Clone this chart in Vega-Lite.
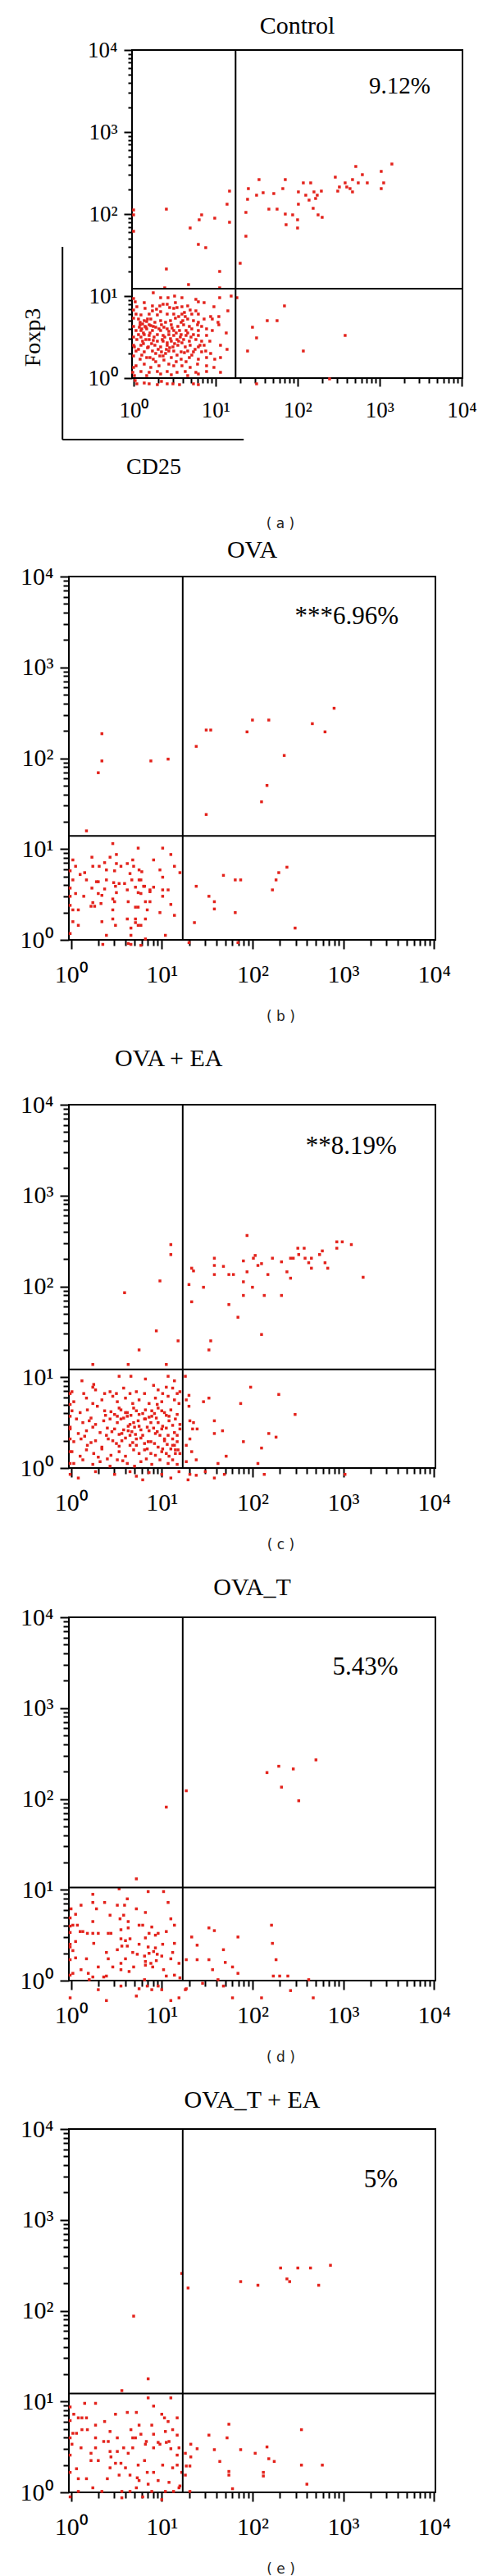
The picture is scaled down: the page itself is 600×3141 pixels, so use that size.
{
  "$schema": "https://vega.github.io/schema/vega-lite/v6.json",
  "padding": {"left": 23, "top": 15, "right": 5, "bottom": 0},
  "spacing": 7,
  "config": {
    "view": {"stroke": "black", "strokeWidth": 2},
    "axis": {"domain": false, "grid": false, "tickColor": "black", "tickWidth": 2, "labelColor": "black", "labelFont": "Liberation Serif", "titleFont": "Liberation Serif", "titleFontWeight": "normal", "titleColor": "black", "labelFlush": false, "labelOverlap": false, "labelBound": false},
    "title": {"font": "Liberation Serif", "fontSize": 30, "fontWeight": "normal", "color": "black", "baseline": "alphabetic", "frame": "group"}
  },
  "datasets": {
    "a": [
      {"cd25":0.24,"foxp3":1.04},{"cd25":0.33,"foxp3":0.98},{"cd25":0.42,"foxp3":0.98},{"cd25":0.50,"foxp3":1.00},{"cd25":0.59,"foxp3":0.98},{"cd25":0.76,"foxp3":0.96},{"cd25":1.05,"foxp3":0.98},{"cd25":1.19,"foxp3":1.00},
      {"cd25":0.02,"foxp3":0.93},{"cd25":0.13,"foxp3":0.92},{"cd25":0.23,"foxp3":0.88},{"cd25":0.32,"foxp3":0.88},{"cd25":0.41,"foxp3":0.90},{"cd25":0.51,"foxp3":0.92},{"cd25":0.53,"foxp3":0.86},{"cd25":0.79,"foxp3":0.93},{"cd25":0.86,"foxp3":0.92},
      {"cd25":0.04,"foxp3":0.87},{"cd25":0.14,"foxp3":0.85},{"cd25":0.23,"foxp3":0.82},{"cd25":0.33,"foxp3":0.81},{"cd25":0.49,"foxp3":0.85},{"cd25":0.59,"foxp3":0.87},{"cd25":0.69,"foxp3":0.83},{"cd25":0.76,"foxp3":0.82},{"cd25":0.98,"foxp3":0.87},{"cd25":1.15,"foxp3":0.82},
      {"cd25":0.03,"foxp3":0.78},{"cd25":0.09,"foxp3":0.77},{"cd25":0.19,"foxp3":0.78},{"cd25":0.29,"foxp3":0.77},{"cd25":0.41,"foxp3":0.78},{"cd25":0.49,"foxp3":0.78},{"cd25":0.59,"foxp3":0.78},{"cd25":0.63,"foxp3":0.75},{"cd25":0.71,"foxp3":0.78},{"cd25":0.79,"foxp3":0.78},{"cd25":0.94,"foxp3":0.75},{"cd25":1.04,"foxp3":0.75},
      {"cd25":0.06,"foxp3":0.72},{"cd25":0.13,"foxp3":0.70},{"cd25":0.21,"foxp3":0.72},{"cd25":0.33,"foxp3":0.70},{"cd25":0.39,"foxp3":0.68},{"cd25":0.51,"foxp3":0.73},{"cd25":0.58,"foxp3":0.68},{"cd25":0.66,"foxp3":0.72},{"cd25":0.73,"foxp3":0.70},{"cd25":0.79,"foxp3":0.68},{"cd25":0.86,"foxp3":0.72},{"cd25":0.96,"foxp3":0.72},{"cd25":1.03,"foxp3":0.68},
      {"cd25":0.08,"foxp3":0.65},{"cd25":0.14,"foxp3":0.63},{"cd25":0.19,"foxp3":0.65},{"cd25":0.24,"foxp3":0.63},{"cd25":0.34,"foxp3":0.65},{"cd25":0.46,"foxp3":0.65},{"cd25":0.54,"foxp3":0.63},{"cd25":0.61,"foxp3":0.65},{"cd25":0.68,"foxp3":0.63},{"cd25":0.78,"foxp3":0.65},{"cd25":0.83,"foxp3":0.63},{"cd25":1.04,"foxp3":0.65},
      {"cd25":0.03,"foxp3":0.58},{"cd25":0.09,"foxp3":0.58},{"cd25":0.16,"foxp3":0.60},{"cd25":0.23,"foxp3":0.58},{"cd25":0.33,"foxp3":0.58},{"cd25":0.41,"foxp3":0.60},{"cd25":0.49,"foxp3":0.58},{"cd25":0.56,"foxp3":0.58},{"cd25":0.64,"foxp3":0.58},{"cd25":0.71,"foxp3":0.60},{"cd25":0.79,"foxp3":0.58},{"cd25":0.89,"foxp3":0.60},{"cd25":0.96,"foxp3":0.58},
      {"cd25":0.06,"foxp3":0.53},{"cd25":0.13,"foxp3":0.53},{"cd25":0.19,"foxp3":0.52},{"cd25":0.29,"foxp3":0.53},{"cd25":0.36,"foxp3":0.52},{"cd25":0.43,"foxp3":0.53},{"cd25":0.49,"foxp3":0.52},{"cd25":0.58,"foxp3":0.53},{"cd25":0.64,"foxp3":0.52},{"cd25":0.73,"foxp3":0.53},{"cd25":0.79,"foxp3":0.52},{"cd25":0.89,"foxp3":0.52},{"cd25":1.13,"foxp3":0.55},
      {"cd25":0.04,"foxp3":0.47},{"cd25":0.11,"foxp3":0.45},{"cd25":0.19,"foxp3":0.47},{"cd25":0.29,"foxp3":0.45},{"cd25":0.36,"foxp3":0.45},{"cd25":0.41,"foxp3":0.43},{"cd25":0.46,"foxp3":0.45},{"cd25":0.53,"foxp3":0.47},{"cd25":0.59,"foxp3":0.43},{"cd25":0.68,"foxp3":0.45},{"cd25":0.76,"foxp3":0.47},{"cd25":0.83,"foxp3":0.45},{"cd25":0.93,"foxp3":0.45},
      {"cd25":0.01,"foxp3":0.38},{"cd25":0.09,"foxp3":0.40},{"cd25":0.18,"foxp3":0.38},{"cd25":0.26,"foxp3":0.40},{"cd25":0.33,"foxp3":0.38},{"cd25":0.41,"foxp3":0.40},{"cd25":0.48,"foxp3":0.38},{"cd25":0.54,"foxp3":0.40},{"cd25":0.63,"foxp3":0.38},{"cd25":0.69,"foxp3":0.40},{"cd25":0.79,"foxp3":0.38},{"cd25":0.86,"foxp3":0.40},{"cd25":1.06,"foxp3":0.40},
      {"cd25":0.03,"foxp3":0.33},{"cd25":0.13,"foxp3":0.32},{"cd25":0.23,"foxp3":0.33},{"cd25":0.34,"foxp3":0.32},{"cd25":0.43,"foxp3":0.33},{"cd25":0.58,"foxp3":0.32},{"cd25":0.66,"foxp3":0.33},{"cd25":0.73,"foxp3":0.32},{"cd25":0.83,"foxp3":0.32},{"cd25":0.88,"foxp3":0.33},{"cd25":0.94,"foxp3":0.30},{"cd25":1.14,"foxp3":0.35},
      {"cd25":0.08,"foxp3":0.23},{"cd25":0.16,"foxp3":0.25},{"cd25":0.24,"foxp3":0.23},{"cd25":0.36,"foxp3":0.27},{"cd25":0.46,"foxp3":0.25},{"cd25":0.58,"foxp3":0.23},{"cd25":0.68,"foxp3":0.25},{"cd25":0.79,"foxp3":0.23},{"cd25":0.89,"foxp3":0.25},{"cd25":0.99,"foxp3":0.23},{"cd25":1.06,"foxp3":0.25},
      {"cd25":0.03,"foxp3":0.15},{"cd25":0.13,"foxp3":0.17},{"cd25":0.21,"foxp3":0.13},{"cd25":0.31,"foxp3":0.15},{"cd25":0.43,"foxp3":0.17},{"cd25":0.49,"foxp3":0.15},{"cd25":0.59,"foxp3":0.15},{"cd25":0.69,"foxp3":0.13},{"cd25":0.78,"foxp3":0.17},{"cd25":0.89,"foxp3":0.15},{"cd25":0.98,"foxp3":0.13},
      {"cd25":0.09,"foxp3":0.08},{"cd25":0.19,"foxp3":0.07},{"cd25":0.29,"foxp3":0.08},{"cd25":0.41,"foxp3":0.08},{"cd25":0.53,"foxp3":0.07},{"cd25":0.63,"foxp3":0.08},{"cd25":0.76,"foxp3":0.07},{"cd25":0.89,"foxp3":0.08},{"cd25":1.06,"foxp3":0.07},
      {"cd25":0.01,"foxp3":0.03},{"cd25":0.16,"foxp3":0.03},{"cd25":0.33,"foxp3":0.05},{"cd25":0.46,"foxp3":0.04},{"cd25":0.66,"foxp3":0.03},{"cd25":0.79,"foxp3":0.05},
      {"cd25":0.02,"foxp3":-0.03},{"cd25":0.04,"foxp3":-0.07},{"cd25":0.13,"foxp3":-0.06},{"cd25":0.19,"foxp3":-0.07},{"cd25":0.29,"foxp3":-0.08},{"cd25":0.34,"foxp3":-0.04},{"cd25":0.41,"foxp3":-0.07},{"cd25":0.48,"foxp3":-0.07},{"cd25":0.56,"foxp3":-0.08},{"cd25":0.73,"foxp3":-0.07},{"cd25":0.79,"foxp3":-0.08},
      {"cd25":0.00,"foxp3":0.97},{"cd25":0.00,"foxp3":0.83},{"cd25":0.00,"foxp3":0.73},{"cd25":0.00,"foxp3":0.63},{"cd25":0.00,"foxp3":0.50},{"cd25":0.00,"foxp3":0.40},{"cd25":0.00,"foxp3":0.27},{"cd25":0.00,"foxp3":0.13},{"cd25":-0.01,"foxp3":0.07},
      {"cd25":0.10,"foxp3":0.60},{"cd25":0.15,"foxp3":0.62},{"cd25":0.12,"foxp3":0.55},{"cd25":0.20,"foxp3":0.55},{"cd25":0.25,"foxp3":0.50},{"cd25":0.35,"foxp3":0.47},{"cd25":0.38,"foxp3":0.50},{"cd25":0.45,"foxp3":0.48},{"cd25":0.50,"foxp3":0.42},{"cd25":0.55,"foxp3":0.45},{"cd25":0.40,"foxp3":0.35},{"cd25":0.30,"foxp3":0.35},{"cd25":0.22,"foxp3":0.42},{"cd25":0.60,"foxp3":0.70},{"cd25":0.62,"foxp3":0.80},{"cd25":0.55,"foxp3":0.75},{"cd25":0.45,"foxp3":0.70},{"cd25":0.08,"foxp3":0.68},{"cd25":0.17,"foxp3":0.72},{"cd25":0.27,"foxp3":0.62},
      {"cd25":0.07,"foxp3":0.62},{"cd25":0.11,"foxp3":0.66},{"cd25":0.16,"foxp3":0.69},{"cd25":0.21,"foxp3":0.64},{"cd25":0.26,"foxp3":0.68},{"cd25":0.31,"foxp3":0.60},{"cd25":0.37,"foxp3":0.62},{"cd25":0.43,"foxp3":0.57},{"cd25":0.47,"foxp3":0.61},{"cd25":0.52,"foxp3":0.55},{"cd25":0.57,"foxp3":0.50},{"cd25":0.61,"foxp3":0.47},{"cd25":0.66,"foxp3":0.55},{"cd25":0.70,"foxp3":0.50},{"cd25":0.12,"foxp3":0.42},{"cd25":0.17,"foxp3":0.37},{"cd25":0.27,"foxp3":0.30},{"cd25":0.32,"foxp3":0.27},{"cd25":0.39,"foxp3":0.30},{"cd25":0.44,"foxp3":0.37},{"cd25":0.49,"foxp3":0.33},{"cd25":0.53,"foxp3":0.28},{"cd25":0.62,"foxp3":0.31},{"cd25":0.09,"foxp3":0.50},{"cd25":0.15,"foxp3":0.47},{"cd25":0.24,"foxp3":0.46},{"cd25":0.06,"foxp3":0.35},{"cd25":0.10,"foxp3":0.28},{"cd25":0.20,"foxp3":0.25},{"cd25":0.27,"foxp3":0.20},{"cd25":0.37,"foxp3":0.22},{"cd25":0.52,"foxp3":0.20},{"cd25":0.64,"foxp3":0.20},{"cd25":0.71,"foxp3":0.28},{"cd25":0.75,"foxp3":0.35},{"cd25":0.81,"foxp3":0.40},{"cd25":0.44,"foxp3":0.86},{"cd25":0.36,"foxp3":0.90},{"cd25":0.28,"foxp3":0.84},{"cd25":0.66,"foxp3":0.88},
      {"cd25":0.00,"foxp3":2.05},{"cd25":0.00,"foxp3":1.99},{"cd25":0.00,"foxp3":1.79},{"cd25":0.40,"foxp3":2.06},{"cd25":1.17,"foxp3":2.28},{"cd25":1.14,"foxp3":2.12},{"cd25":0.83,"foxp3":1.99},{"cd25":0.80,"foxp3":1.93},{"cd25":0.99,"foxp3":1.95},{"cd25":1.17,"foxp3":1.90},{"cd25":0.69,"foxp3":1.83},{"cd25":0.79,"foxp3":1.63},{"cd25":0.88,"foxp3":1.59},{"cd25":0.40,"foxp3":1.33},{"cd25":1.05,"foxp3":1.30},{"cd25":0.67,"foxp3":1.14},{"cd25":0.38,"foxp3":1.10},{"cd25":1.05,"foxp3":1.10},
      {"cd25":1.30,"foxp3":1.40},{"cd25":1.37,"foxp3":1.73},{"cd25":1.37,"foxp3":2.02},{"cd25":1.39,"foxp3":2.18},{"cd25":1.40,"foxp3":2.31},{"cd25":1.50,"foxp3":2.23},{"cd25":1.53,"foxp3":2.42},{"cd25":1.58,"foxp3":2.26},{"cd25":1.65,"foxp3":2.06},{"cd25":1.71,"foxp3":2.25},{"cd25":1.75,"foxp3":2.06},{"cd25":1.82,"foxp3":2.31},{"cd25":1.85,"foxp3":2.42},{"cd25":1.85,"foxp3":2.00},{"cd25":1.86,"foxp3":1.87},{"cd25":1.94,"foxp3":1.99},{"cd25":2.00,"foxp3":1.93},{"cd25":2.00,"foxp3":1.83},{"cd25":2.01,"foxp3":2.27},{"cd25":2.01,"foxp3":2.12},{"cd25":2.07,"foxp3":2.38},{"cd25":2.10,"foxp3":2.23},{"cd25":2.14,"foxp3":2.17},{"cd25":2.16,"foxp3":2.38},{"cd25":2.19,"foxp3":2.07},{"cd25":2.20,"foxp3":2.27},{"cd25":2.22,"foxp3":2.19},{"cd25":2.24,"foxp3":2.23},{"cd25":2.25,"foxp3":1.99},{"cd25":2.29,"foxp3":2.28},{"cd25":2.30,"foxp3":1.96},{"cd25":2.46,"foxp3":2.45},{"cd25":2.49,"foxp3":2.28},{"cd25":2.51,"foxp3":2.33},{"cd25":2.58,"foxp3":2.38},{"cd25":2.60,"foxp3":2.33},{"cd25":2.64,"foxp3":2.31},{"cd25":2.67,"foxp3":2.27},{"cd25":2.67,"foxp3":2.42},{"cd25":2.71,"foxp3":2.58},{"cd25":2.74,"foxp3":2.38},{"cd25":2.79,"foxp3":2.48},{"cd25":2.85,"foxp3":2.38},{"cd25":3.02,"foxp3":2.52},{"cd25":3.02,"foxp3":2.31},{"cd25":3.05,"foxp3":2.38},{"cd25":3.15,"foxp3":2.61},
      {"cd25":1.26,"foxp3":0.98},{"cd25":1.45,"foxp3":0.62},{"cd25":1.50,"foxp3":0.49},{"cd25":1.39,"foxp3":0.33},{"cd25":1.63,"foxp3":0.70},{"cd25":1.75,"foxp3":0.70},{"cd25":1.84,"foxp3":0.88},{"cd25":2.07,"foxp3":0.33},{"cd25":2.58,"foxp3":0.52},{"cd25":2.39,"foxp3":-0.01},{"cd25":1.50,"foxp3":-0.07}
    ],
    "b": [
      {"cd25":0.46,"foxp3":1.06},{"cd25":0.74,"foxp3":1.01},{"cd25":1.01,"foxp3":1.01},{"cd25":0.23,"foxp3":0.91},{"cd25":0.43,"foxp3":0.91},{"cd25":0.50,"foxp3":0.94},{"cd25":1.10,"foxp3":0.94},{"cd25":0.02,"foxp3":0.88},
      {"cd25":0.24,"foxp3":0.81},{"cd25":0.31,"foxp3":0.81},{"cd25":0.37,"foxp3":0.85},{"cd25":0.50,"foxp3":0.84},{"cd25":0.55,"foxp3":0.81},{"cd25":0.62,"foxp3":0.84},{"cd25":0.68,"foxp3":0.88},{"cd25":0.69,"foxp3":0.81},{"cd25":0.91,"foxp3":0.88},{"cd25":0.05,"foxp3":0.81},
      {"cd25":0.15,"foxp3":0.74},{"cd25":0.10,"foxp3":0.72},{"cd25":0.39,"foxp3":0.77},{"cd25":0.48,"foxp3":0.76},{"cd25":0.65,"foxp3":0.73},{"cd25":0.75,"foxp3":0.77},{"cd25":0.78,"foxp3":0.75},{"cd25":0.98,"foxp3":0.77},{"cd25":1.14,"foxp3":0.81},{"cd25":1.20,"foxp3":0.74},
      {"cd25":0.17,"foxp3":0.66},{"cd25":0.28,"foxp3":0.64},{"cd25":0.30,"foxp3":0.64},{"cd25":0.39,"foxp3":0.66},{"cd25":0.47,"foxp3":0.63},{"cd25":0.53,"foxp3":0.62},{"cd25":0.59,"foxp3":0.62},{"cd25":0.67,"foxp3":0.66},{"cd25":0.75,"foxp3":0.66},{"cd25":0.77,"foxp3":0.66},{"cd25":1.01,"foxp3":0.69},{"cd25":0.02,"foxp3":0.66},
      {"cd25":0.23,"foxp3":0.57},{"cd25":0.37,"foxp3":0.56},{"cd25":0.49,"foxp3":0.59},{"cd25":0.62,"foxp3":0.55},{"cd25":0.71,"foxp3":0.58},{"cd25":0.80,"foxp3":0.59},{"cd25":0.81,"foxp3":0.59},{"cd25":0.87,"foxp3":0.55},{"cd25":0.91,"foxp3":0.58},{"cd25":1.01,"foxp3":0.55},{"cd25":1.07,"foxp3":0.55},
      {"cd25":0.30,"foxp3":0.51},{"cd25":0.34,"foxp3":0.49},{"cd25":0.14,"foxp3":0.48},{"cd25":0.05,"foxp3":0.51},{"cd25":0.50,"foxp3":0.52},{"cd25":0.74,"foxp3":0.52},{"cd25":0.77,"foxp3":0.51},{"cd25":0.87,"foxp3":0.53},{"cd25":1.01,"foxp3":0.48},
      {"cd25":0.46,"foxp3":0.45},{"cd25":0.48,"foxp3":0.42},{"cd25":0.24,"foxp3":0.41},{"cd25":0.33,"foxp3":0.40},{"cd25":0.22,"foxp3":0.37},{"cd25":0.26,"foxp3":0.37},{"cd25":0.63,"foxp3":0.42},{"cd25":0.71,"foxp3":0.36},{"cd25":0.74,"foxp3":0.36},{"cd25":0.82,"foxp3":0.42},{"cd25":0.87,"foxp3":0.42},{"cd25":0.84,"foxp3":0.33},{"cd25":1.10,"foxp3":0.39},
      {"cd25":0.02,"foxp3":0.33},{"cd25":0.08,"foxp3":0.33},{"cd25":0.46,"foxp3":0.33},{"cd25":0.98,"foxp3":0.30},{"cd25":1.14,"foxp3":0.27},{"cd25":0.62,"foxp3":0.23},{"cd25":0.71,"foxp3":0.23},{"cd25":0.82,"foxp3":0.23},{"cd25":0.71,"foxp3":0.19},{"cd25":0.74,"foxp3":0.16},{"cd25":0.77,"foxp3":0.16},{"cd25":0.46,"foxp3":0.23},{"cd25":0.34,"foxp3":0.20},{"cd25":0.02,"foxp3":0.20},{"cd25":0.08,"foxp3":0.16},{"cd25":0.49,"foxp3":0.16},{"cd25":0.66,"foxp3":0.13},
      {"cd25":0.39,"foxp3":0.05},{"cd25":0.66,"foxp3":0.05},{"cd25":0.82,"foxp3":0.01},{"cd25":1.04,"foxp3":0.05},{"cd25":-0.01,"foxp3":0.07},{"cd25":-0.01,"foxp3":0.57},{"cd25":-0.01,"foxp3":0.48},{"cd25":-0.01,"foxp3":0.38},{"cd25":-0.01,"foxp3":0.76},
      {"cd25":0.35,"foxp3":-0.05},{"cd25":0.63,"foxp3":-0.04},{"cd25":0.66,"foxp3":-0.05},{"cd25":0.77,"foxp3":-0.06},
      {"cd25":0.17,"foxp3":1.20},{"cd25":0.34,"foxp3":2.27},{"cd25":0.34,"foxp3":1.97},{"cd25":0.30,"foxp3":1.84},{"cd25":0.88,"foxp3":1.97},{"cd25":1.07,"foxp3":1.99},
      {"cd25":1.38,"foxp3":2.13},{"cd25":1.49,"foxp3":2.31},{"cd25":1.54,"foxp3":2.31},{"cd25":1.49,"foxp3":1.38},{"cd25":1.94,"foxp3":2.29},{"cd25":2.00,"foxp3":2.42},{"cd25":2.18,"foxp3":2.42},{"cd25":2.10,"foxp3":1.52},{"cd25":2.16,"foxp3":1.70},{"cd25":2.35,"foxp3":2.03},{"cd25":2.66,"foxp3":2.38},{"cd25":2.80,"foxp3":2.29},{"cd25":2.90,"foxp3":2.55},
      {"cd25":1.38,"foxp3":0.59},{"cd25":1.68,"foxp3":0.71},{"cd25":1.81,"foxp3":0.66},{"cd25":1.87,"foxp3":0.66},{"cd25":1.52,"foxp3":0.48},{"cd25":1.58,"foxp3":0.42},{"cd25":1.58,"foxp3":0.34},{"cd25":1.81,"foxp3":0.30},{"cd25":1.36,"foxp3":0.19},{"cd25":2.22,"foxp3":0.55},{"cd25":2.26,"foxp3":0.66},{"cd25":2.29,"foxp3":0.74},{"cd25":2.38,"foxp3":0.80},{"cd25":2.47,"foxp3":0.13},{"cd25":1.30,"foxp3":-0.03},{"cd25":1.84,"foxp3":-0.03}
    ],
    "c": [
      {"cd25":0.12,"foxp3":0.96},{"cd25":0.24,"foxp3":0.89},{"cd25":0.25,"foxp3":0.92},{"cd25":0.53,"foxp3":1.01},{"cd25":0.66,"foxp3":1.01},{"cd25":0.82,"foxp3":0.98},{"cd25":1.07,"foxp3":1.01},{"cd25":1.14,"foxp3":0.96},
      {"cd25":0.01,"foxp3":0.84},{"cd25":0.14,"foxp3":0.82},{"cd25":0.27,"foxp3":0.86},{"cd25":0.37,"foxp3":0.82},{"cd25":0.43,"foxp3":0.84},{"cd25":0.50,"foxp3":0.82},{"cd25":0.58,"foxp3":0.88},{"cd25":0.65,"foxp3":0.82},{"cd25":0.72,"foxp3":0.84},{"cd25":0.81,"foxp3":0.82},{"cd25":0.91,"foxp3":0.91},{"cd25":0.96,"foxp3":0.86},{"cd25":1.01,"foxp3":0.82},{"cd25":1.05,"foxp3":0.89},{"cd25":1.12,"foxp3":0.88},{"cd25":1.17,"foxp3":0.82},{"cd25":1.20,"foxp3":0.84},
      {"cd25":0.03,"foxp3":0.73},{"cd25":0.17,"foxp3":0.77},{"cd25":0.24,"foxp3":0.71},{"cd25":0.34,"foxp3":0.75},{"cd25":0.46,"foxp3":0.79},{"cd25":0.51,"foxp3":0.73},{"cd25":0.60,"foxp3":0.77},{"cd25":0.68,"foxp3":0.71},{"cd25":0.75,"foxp3":0.75},{"cd25":0.86,"foxp3":0.71},{"cd25":0.93,"foxp3":0.77},{"cd25":1.00,"foxp3":0.73},{"cd25":1.07,"foxp3":0.79},{"cd25":1.14,"foxp3":0.75},{"cd25":1.19,"foxp3":0.71},
      {"cd25":0.01,"foxp3":0.63},{"cd25":0.10,"foxp3":0.61},{"cd25":0.18,"foxp3":0.64},{"cd25":0.29,"foxp3":0.68},{"cd25":0.37,"foxp3":0.63},{"cd25":0.48,"foxp3":0.59},{"cd25":0.55,"foxp3":0.64},{"cd25":0.62,"foxp3":0.61},{"cd25":0.69,"foxp3":0.66},{"cd25":0.75,"foxp3":0.59},{"cd25":0.82,"foxp3":0.64},{"cd25":0.89,"foxp3":0.63},{"cd25":0.96,"foxp3":0.66},{"cd25":1.03,"foxp3":0.61},{"cd25":1.10,"foxp3":0.64},{"cd25":1.17,"foxp3":0.59},
      {"cd25":0.06,"foxp3":0.54},{"cd25":0.13,"foxp3":0.50},{"cd25":0.22,"foxp3":0.55},{"cd25":0.27,"foxp3":0.48},{"cd25":0.36,"foxp3":0.52},{"cd25":0.43,"foxp3":0.54},{"cd25":0.51,"foxp3":0.50},{"cd25":0.58,"foxp3":0.55},{"cd25":0.65,"foxp3":0.48},{"cd25":0.74,"foxp3":0.52},{"cd25":0.81,"foxp3":0.54},{"cd25":0.88,"foxp3":0.50},{"cd25":0.94,"foxp3":0.55},{"cd25":1.01,"foxp3":0.46},{"cd25":1.08,"foxp3":0.52},{"cd25":1.15,"foxp3":0.54},{"cd25":1.20,"foxp3":0.48},
      {"cd25":-0.01,"foxp3":0.43},{"cd25":0.08,"foxp3":0.38},{"cd25":0.17,"foxp3":0.41},{"cd25":0.24,"foxp3":0.45},{"cd25":0.32,"foxp3":0.39},{"cd25":0.39,"foxp3":0.36},{"cd25":0.48,"foxp3":0.43},{"cd25":0.56,"foxp3":0.38},{"cd25":0.63,"foxp3":0.41},{"cd25":0.70,"foxp3":0.45},{"cd25":0.79,"foxp3":0.36},{"cd25":0.86,"foxp3":0.41},{"cd25":0.93,"foxp3":0.38},{"cd25":1.00,"foxp3":0.43},{"cd25":1.07,"foxp3":0.36},{"cd25":1.14,"foxp3":0.39},{"cd25":1.20,"foxp3":0.43},
      {"cd25":0.03,"foxp3":0.29},{"cd25":0.11,"foxp3":0.32},{"cd25":0.18,"foxp3":0.25},{"cd25":0.27,"foxp3":0.30},{"cd25":0.34,"foxp3":0.23},{"cd25":0.41,"foxp3":0.32},{"cd25":0.50,"foxp3":0.27},{"cd25":0.56,"foxp3":0.30},{"cd25":0.65,"foxp3":0.25},{"cd25":0.72,"foxp3":0.32},{"cd25":0.81,"foxp3":0.27},{"cd25":0.88,"foxp3":0.29},{"cd25":0.96,"foxp3":0.23},{"cd25":1.03,"foxp3":0.30},{"cd25":1.12,"foxp3":0.25},{"cd25":1.17,"foxp3":0.29},
      {"cd25":0.01,"foxp3":0.18},{"cd25":0.10,"foxp3":0.13},{"cd25":0.17,"foxp3":0.20},{"cd25":0.25,"foxp3":0.16},{"cd25":0.34,"foxp3":0.21},{"cd25":0.44,"foxp3":0.14},{"cd25":0.53,"foxp3":0.18},{"cd25":0.60,"foxp3":0.13},{"cd25":0.69,"foxp3":0.20},{"cd25":0.75,"foxp3":0.16},{"cd25":0.84,"foxp3":0.21},{"cd25":0.93,"foxp3":0.14},{"cd25":1.00,"foxp3":0.18},{"cd25":1.08,"foxp3":0.13},{"cd25":1.15,"foxp3":0.20},{"cd25":1.20,"foxp3":0.16},
      {"cd25":0.03,"foxp3":0.05},{"cd25":0.13,"foxp3":0.09},{"cd25":0.24,"foxp3":0.04},{"cd25":0.32,"foxp3":0.07},{"cd25":0.43,"foxp3":0.02},{"cd25":0.51,"foxp3":0.09},{"cd25":0.62,"foxp3":0.05},{"cd25":0.70,"foxp3":0.02},{"cd25":0.77,"foxp3":0.07},{"cd25":0.89,"foxp3":0.04},{"cd25":0.98,"foxp3":0.09},{"cd25":1.07,"foxp3":0.05},{"cd25":1.17,"foxp3":0.04},
      {"cd25":-0.01,"foxp3":-0.07},{"cd25":0.08,"foxp3":-0.11},{"cd25":0.27,"foxp3":-0.04},{"cd25":0.48,"foxp3":-0.07},{"cd25":0.65,"foxp3":-0.04},{"cd25":0.72,"foxp3":-0.09},{"cd25":0.79,"foxp3":-0.13},{"cd25":0.86,"foxp3":-0.05},{"cd25":1.00,"foxp3":-0.07},{"cd25":1.10,"foxp3":-0.11},{"cd25":1.19,"foxp3":-0.04},
      {"cd25":0.62,"foxp3":0.57},{"cd25":0.69,"foxp3":0.50},{"cd25":0.75,"foxp3":0.46},{"cd25":0.82,"foxp3":0.54},{"cd25":0.89,"foxp3":0.57},{"cd25":0.96,"foxp3":0.50},{"cd25":0.98,"foxp3":0.36},{"cd25":1.03,"foxp3":0.32},{"cd25":1.10,"foxp3":0.21},{"cd25":1.14,"foxp3":0.25},{"cd25":0.55,"foxp3":0.54},{"cd25":0.60,"foxp3":0.61},{"cd25":0.51,"foxp3":0.57},{"cd25":0.65,"foxp3":0.36},{"cd25":0.72,"foxp3":0.25},{"cd25":0.81,"foxp3":0.20},{"cd25":0.88,"foxp3":0.16},{"cd25":1.01,"foxp3":0.21},{"cd25":1.05,"foxp3":0.16},{"cd25":1.12,"foxp3":0.32},{"cd25":1.15,"foxp3":0.16},{"cd25":1.17,"foxp3":0.36},{"cd25":1.08,"foxp3":0.57},{"cd25":1.00,"foxp3":0.63},
      {"cd25":0.40,"foxp3":0.44},{"cd25":0.45,"foxp3":0.40},{"cd25":0.53,"foxp3":0.37},{"cd25":0.58,"foxp3":0.42},{"cd25":0.63,"foxp3":0.46},{"cd25":0.67,"foxp3":0.40},{"cd25":0.71,"foxp3":0.37},{"cd25":0.77,"foxp3":0.42},{"cd25":0.84,"foxp3":0.45},{"cd25":0.91,"foxp3":0.44},{"cd25":0.95,"foxp3":0.40},{"cd25":1.05,"foxp3":0.44},{"cd25":0.46,"foxp3":0.30},{"cd25":0.53,"foxp3":0.24},{"cd25":0.60,"foxp3":0.33},{"cd25":0.68,"foxp3":0.28},{"cd25":0.77,"foxp3":0.33},{"cd25":0.85,"foxp3":0.29},{"cd25":0.92,"foxp3":0.27},{"cd25":1.06,"foxp3":0.26},{"cd25":0.38,"foxp3":0.58},{"cd25":0.44,"foxp3":0.62},{"cd25":0.53,"foxp3":0.66},{"cd25":0.66,"foxp3":0.58},{"cd25":0.72,"foxp3":0.63},{"cd25":0.79,"foxp3":0.60},{"cd25":0.86,"foxp3":0.56},{"cd25":0.92,"foxp3":0.60},{"cd25":1.05,"foxp3":0.58},{"cd25":1.12,"foxp3":0.47},{"cd25":0.20,"foxp3":0.52},{"cd25":0.15,"foxp3":0.35},{"cd25":0.22,"foxp3":0.28},{"cd25":0.30,"foxp3":0.12},{"cd25":0.40,"foxp3":0.10},{"cd25":0.57,"foxp3":0.08},{"cd25":0.83,"foxp3":0.10},{"cd25":1.12,"foxp3":0.09},{"cd25":1.18,"foxp3":0.20},{"cd25":0.95,"foxp3":0.70},
      {"cd25":-0.01,"foxp3":0.82},{"cd25":-0.01,"foxp3":0.70},{"cd25":-0.01,"foxp3":0.57},{"cd25":-0.01,"foxp3":0.45},{"cd25":-0.01,"foxp3":0.32},{"cd25":-0.01,"foxp3":0.18},{"cd25":-0.01,"foxp3":0.05},
      {"cd25":1.26,"foxp3":1.01},{"cd25":1.30,"foxp3":0.80},{"cd25":1.27,"foxp3":0.75},{"cd25":1.30,"foxp3":0.68},{"cd25":1.31,"foxp3":0.52},{"cd25":1.35,"foxp3":0.50},{"cd25":1.39,"foxp3":0.43},{"cd25":1.34,"foxp3":0.43},{"cd25":1.31,"foxp3":0.32},{"cd25":1.27,"foxp3":0.25},{"cd25":1.33,"foxp3":0.18},{"cd25":1.38,"foxp3":0.09},{"cd25":1.27,"foxp3":0.07},{"cd25":1.46,"foxp3":0.73},{"cd25":1.52,"foxp3":0.77},{"cd25":1.58,"foxp3":0.52},{"cd25":1.58,"foxp3":0.38},{"cd25":1.67,"foxp3":0.41},{"cd25":1.71,"foxp3":0.13},{"cd25":1.62,"foxp3":0.05},{"cd25":1.87,"foxp3":0.71},{"cd25":1.90,"foxp3":0.29},{"cd25":1.98,"foxp3":0.89},{"cd25":2.10,"foxp3":0.22},{"cd25":2.06,"foxp3":0.05},{"cd25":2.18,"foxp3":0.38},{"cd25":2.26,"foxp3":0.34},{"cd25":2.29,"foxp3":0.81},{"cd25":2.47,"foxp3":0.59},{"cd25":2.13,"foxp3":-0.07},{"cd25":3.02,"foxp3":-0.07},{"cd25":1.31,"foxp3":-0.07},{"cd25":1.58,"foxp3":-0.11},{"cd25":1.69,"foxp3":-0.07},{"cd25":1.48,"foxp3":-0.04},{"cd25":1.29,"foxp3":-0.13},{"cd25":1.38,"foxp3":-0.08},
      {"cd25":0.24,"foxp3":1.14},{"cd25":0.63,"foxp3":1.14},{"cd25":1.05,"foxp3":1.14},{"cd25":0.75,"foxp3":1.30},{"cd25":0.94,"foxp3":1.51},{"cd25":1.18,"foxp3":1.40},{"cd25":0.59,"foxp3":1.93},{"cd25":0.98,"foxp3":2.06},{"cd25":1.10,"foxp3":2.46},{"cd25":1.10,"foxp3":2.35},
      {"cd25":1.30,"foxp3":2.02},{"cd25":1.33,"foxp3":2.20},{"cd25":1.35,"foxp3":2.17},{"cd25":1.33,"foxp3":1.83},{"cd25":1.46,"foxp3":1.99},{"cd25":1.54,"foxp3":1.40},{"cd25":1.52,"foxp3":1.30},{"cd25":1.58,"foxp3":2.31},{"cd25":1.58,"foxp3":2.23},{"cd25":1.58,"foxp3":2.13},{"cd25":1.68,"foxp3":2.22},{"cd25":1.74,"foxp3":1.80},{"cd25":1.74,"foxp3":2.13},{"cd25":1.79,"foxp3":2.13},{"cd25":1.84,"foxp3":1.66},{"cd25":1.90,"foxp3":2.28},{"cd25":1.90,"foxp3":2.05},{"cd25":1.90,"foxp3":1.90},{"cd25":1.94,"foxp3":2.16},{"cd25":1.94,"foxp3":2.56},{"cd25":2.00,"foxp3":1.99},{"cd25":2.01,"foxp3":2.31},{"cd25":2.03,"foxp3":2.34},{"cd25":2.06,"foxp3":2.23},{"cd25":2.10,"foxp3":1.47},{"cd25":2.13,"foxp3":1.90},{"cd25":2.10,"foxp3":2.25},{"cd25":2.17,"foxp3":2.13},{"cd25":2.22,"foxp3":2.31},{"cd25":2.32,"foxp3":2.27},{"cd25":2.32,"foxp3":1.90},{"cd25":2.38,"foxp3":2.16},{"cd25":2.42,"foxp3":2.31},{"cd25":2.45,"foxp3":2.31},{"cd25":2.42,"foxp3":2.09},{"cd25":2.50,"foxp3":2.42},{"cd25":2.51,"foxp3":2.35},{"cd25":2.57,"foxp3":2.42},{"cd25":2.58,"foxp3":2.31},{"cd25":2.62,"foxp3":2.26},{"cd25":2.65,"foxp3":2.31},{"cd25":2.65,"foxp3":2.20},{"cd25":2.74,"foxp3":2.35},{"cd25":2.77,"foxp3":2.39},{"cd25":2.80,"foxp3":2.26},{"cd25":2.83,"foxp3":2.20},{"cd25":2.93,"foxp3":2.42},{"cd25":2.93,"foxp3":2.49},{"cd25":2.99,"foxp3":2.49},{"cd25":3.09,"foxp3":2.46},{"cd25":3.22,"foxp3":2.10}
    ],
    "d": [
      {"cd25":0.72,"foxp3":1.12},{"cd25":1.05,"foxp3":1.91},
      {"cd25":0.53,"foxp3":1.01},{"cd25":0.85,"foxp3":0.98},{"cd25":1.02,"foxp3":0.98},{"cd25":0.24,"foxp3":0.95},{"cd25":0.62,"foxp3":0.90},{"cd25":1.07,"foxp3":0.86},{"cd25":0.11,"foxp3":0.83},{"cd25":0.24,"foxp3":0.86},{"cd25":0.37,"foxp3":0.86},{"cd25":0.51,"foxp3":0.83},{"cd25":0.59,"foxp3":0.83},{"cd25":0.28,"foxp3":0.79},{"cd25":0.72,"foxp3":0.79},{"cd25":0.00,"foxp3":0.79},{"cd25":0.82,"foxp3":0.75},{"cd25":1.10,"foxp3":0.68},{"cd25":0.05,"foxp3":0.73},{"cd25":0.43,"foxp3":0.72},{"cd25":0.58,"foxp3":0.72},
      {"cd25":0.02,"foxp3":0.61},{"cd25":0.07,"foxp3":0.61},{"cd25":0.24,"foxp3":0.65},{"cd25":0.54,"foxp3":0.68},{"cd25":0.63,"foxp3":0.65},{"cd25":0.75,"foxp3":0.61},{"cd25":0.79,"foxp3":0.61},{"cd25":0.89,"foxp3":0.59},{"cd25":1.14,"foxp3":0.61},{"cd25":0.10,"foxp3":0.54},{"cd25":0.13,"foxp3":0.54},{"cd25":0.18,"foxp3":0.52},{"cd25":0.24,"foxp3":0.52},{"cd25":0.30,"foxp3":0.52},{"cd25":0.41,"foxp3":0.52},{"cd25":0.44,"foxp3":0.52},{"cd25":0.55,"foxp3":0.56},{"cd25":0.63,"foxp3":0.58},{"cd25":0.86,"foxp3":0.52},{"cd25":0.93,"foxp3":0.50},{"cd25":0.96,"foxp3":0.52},{"cd25":1.05,"foxp3":0.54},
      {"cd25":0.05,"foxp3":0.43},{"cd25":0.25,"foxp3":0.41},{"cd25":0.55,"foxp3":0.46},{"cd25":0.60,"foxp3":0.44},{"cd25":0.65,"foxp3":0.46},{"cd25":0.56,"foxp3":0.38},{"cd25":0.62,"foxp3":0.38},{"cd25":0.75,"foxp3":0.40},{"cd25":0.82,"foxp3":0.47},{"cd25":0.85,"foxp3":0.37},{"cd25":0.93,"foxp3":0.36},{"cd25":1.01,"foxp3":0.40},{"cd25":1.14,"foxp3":0.41},
      {"cd25":0.02,"foxp3":0.33},{"cd25":0.39,"foxp3":0.31},{"cd25":0.51,"foxp3":0.34},{"cd25":0.68,"foxp3":0.31},{"cd25":0.73,"foxp3":0.29},{"cd25":0.81,"foxp3":0.27},{"cd25":0.86,"foxp3":0.30},{"cd25":0.91,"foxp3":0.32},{"cd25":0.95,"foxp3":0.29},{"cd25":1.00,"foxp3":0.27},{"cd25":1.12,"foxp3":0.31},
      {"cd25":0.05,"foxp3":0.25},{"cd25":0.17,"foxp3":0.24},{"cd25":0.41,"foxp3":0.24},{"cd25":0.55,"foxp3":0.19},{"cd25":0.60,"foxp3":0.24},{"cd25":0.82,"foxp3":0.21},{"cd25":0.88,"foxp3":0.19},{"cd25":0.94,"foxp3":0.22},{"cd25":1.10,"foxp3":0.24},{"cd25":1.19,"foxp3":0.19},
      {"cd25":0.30,"foxp3":0.15},{"cd25":0.46,"foxp3":0.15},{"cd25":0.55,"foxp3":0.12},{"cd25":0.69,"foxp3":0.15},{"cd25":0.82,"foxp3":0.17},{"cd25":0.90,"foxp3":0.15},{"cd25":1.02,"foxp3":0.12},{"cd25":0.11,"foxp3":0.12},{"cd25":0.02,"foxp3":0.08},{"cd25":0.19,"foxp3":0.08},{"cd25":0.24,"foxp3":0.04},{"cd25":0.20,"foxp3":0.01},{"cd25":0.36,"foxp3":0.04},{"cd25":0.39,"foxp3":0.05},{"cd25":0.64,"foxp3":0.10},{"cd25":0.81,"foxp3":0.01},{"cd25":1.05,"foxp3":0.05},{"cd25":1.14,"foxp3":0.06},{"cd25":1.20,"foxp3":0.03},
      {"cd25":-0.01,"foxp3":0.53},{"cd25":-0.01,"foxp3":0.40},{"cd25":-0.01,"foxp3":0.23},{"cd25":-0.01,"foxp3":0.69},{"cd25":-0.01,"foxp3":0.60},{"cd25":-0.01,"foxp3":0.37},{"cd25":-0.01,"foxp3":0.06},
      {"cd25":-0.01,"foxp3":-0.19},{"cd25":0.30,"foxp3":-0.10},{"cd25":0.39,"foxp3":-0.22},{"cd25":0.55,"foxp3":-0.06},{"cd25":0.72,"foxp3":-0.17},{"cd25":0.75,"foxp3":-0.09},{"cd25":0.84,"foxp3":-0.06},{"cd25":0.89,"foxp3":-0.10},{"cd25":0.96,"foxp3":-0.06},{"cd25":1.00,"foxp3":-0.10},{"cd25":1.10,"foxp3":-0.22},{"cd25":1.19,"foxp3":-0.19},
      {"cd25":1.26,"foxp3":-0.10},{"cd25":1.27,"foxp3":0.23},{"cd25":1.33,"foxp3":0.48},{"cd25":1.39,"foxp3":0.39},{"cd25":1.39,"foxp3":0.23},{"cd25":1.52,"foxp3":0.58},{"cd25":1.58,"foxp3":0.55},{"cd25":1.52,"foxp3":0.23},{"cd25":1.56,"foxp3":0.12},{"cd25":1.62,"foxp3":0.01},{"cd25":1.68,"foxp3":0.34},{"cd25":1.70,"foxp3":0.20},{"cd25":1.78,"foxp3":0.15},{"cd25":1.84,"foxp3":0.48},{"cd25":1.84,"foxp3":0.08},{"cd25":2.21,"foxp3":0.61},{"cd25":2.22,"foxp3":0.41},{"cd25":2.26,"foxp3":0.23},{"cd25":2.23,"foxp3":0.05},{"cd25":2.30,"foxp3":0.05},{"cd25":2.39,"foxp3":0.05},{"cd25":2.62,"foxp3":0.01},{"cd25":1.27,"foxp3":-0.09},{"cd25":1.45,"foxp3":-0.03},{"cd25":1.68,"foxp3":-0.06},{"cd25":1.78,"foxp3":-0.19},{"cd25":2.10,"foxp3":-0.19},{"cd25":2.42,"foxp3":-0.11},{"cd25":2.67,"foxp3":-0.19},
      {"cd25":1.27,"foxp3":2.09},{"cd25":2.16,"foxp3":2.29},{"cd25":2.29,"foxp3":2.36},{"cd25":2.32,"foxp3":2.13},{"cd25":2.45,"foxp3":2.33},{"cd25":2.51,"foxp3":1.98},{"cd25":2.70,"foxp3":2.43}
    ],
    "e": [
      {"cd25":0.27,"foxp3":0.98},{"cd25":0.15,"foxp3":0.98},{"cd25":0.85,"foxp3":1.04},{"cd25":0.91,"foxp3":0.95},{"cd25":1.10,"foxp3":1.04},{"cd25":0.03,"foxp3":0.86},{"cd25":0.08,"foxp3":0.82},{"cd25":0.12,"foxp3":0.82},{"cd25":0.17,"foxp3":0.82},{"cd25":0.27,"foxp3":0.74},{"cd25":0.37,"foxp3":0.78},{"cd25":0.49,"foxp3":0.86},{"cd25":0.62,"foxp3":0.88},{"cd25":0.72,"foxp3":0.88},{"cd25":0.75,"foxp3":0.74},{"cd25":0.89,"foxp3":0.74},{"cd25":1.00,"foxp3":0.86},{"cd25":1.03,"foxp3":0.82},{"cd25":1.07,"foxp3":0.78},{"cd25":1.17,"foxp3":0.82},
      {"cd25":0.02,"foxp3":0.65},{"cd25":0.06,"foxp3":0.65},{"cd25":0.12,"foxp3":0.69},{"cd25":0.18,"foxp3":0.69},{"cd25":0.27,"foxp3":0.60},{"cd25":0.36,"foxp3":0.56},{"cd25":0.41,"foxp3":0.56},{"cd25":0.43,"foxp3":0.67},{"cd25":0.51,"foxp3":0.60},{"cd25":0.66,"foxp3":0.69},{"cd25":0.68,"foxp3":0.60},{"cd25":0.71,"foxp3":0.60},{"cd25":0.77,"foxp3":0.64},{"cd25":0.83,"foxp3":0.56},{"cd25":0.91,"foxp3":0.64},{"cd25":0.96,"foxp3":0.55},{"cd25":1.04,"foxp3":0.67},{"cd25":1.08,"foxp3":0.56},{"cd25":1.12,"foxp3":0.69},{"cd25":1.17,"foxp3":0.63},
      {"cd25":0.01,"foxp3":0.53},{"cd25":0.11,"foxp3":0.49},{"cd25":0.22,"foxp3":0.43},{"cd25":0.27,"foxp3":0.49},{"cd25":0.43,"foxp3":0.45},{"cd25":0.44,"foxp3":0.39},{"cd25":0.51,"foxp3":0.45},{"cd25":0.58,"foxp3":0.49},{"cd25":0.63,"foxp3":0.43},{"cd25":0.68,"foxp3":0.49},{"cd25":0.82,"foxp3":0.53},{"cd25":0.91,"foxp3":0.49},{"cd25":0.98,"foxp3":0.53},{"cd25":1.05,"foxp3":0.55},{"cd25":1.10,"foxp3":0.48},{"cd25":1.17,"foxp3":0.41},{"cd25":1.19,"foxp3":0.49},
      {"cd25":0.06,"foxp3":0.26},{"cd25":0.22,"foxp3":0.35},{"cd25":0.30,"foxp3":0.35},{"cd25":0.43,"foxp3":0.27},{"cd25":0.49,"foxp3":0.32},{"cd25":0.55,"foxp3":0.32},{"cd25":0.60,"foxp3":0.27},{"cd25":0.74,"foxp3":0.30},{"cd25":0.81,"foxp3":0.35},{"cd25":0.84,"foxp3":0.22},{"cd25":0.91,"foxp3":0.22},{"cd25":1.01,"foxp3":0.30},{"cd25":1.12,"foxp3":0.27},{"cd25":1.17,"foxp3":0.30},{"cd25":1.22,"foxp3":0.22},
      {"cd25":0.08,"foxp3":0.15},{"cd25":0.17,"foxp3":0.15},{"cd25":0.40,"foxp3":0.15},{"cd25":0.53,"foxp3":0.19},{"cd25":0.65,"foxp3":0.19},{"cd25":0.73,"foxp3":0.16},{"cd25":0.75,"foxp3":0.13},{"cd25":0.85,"foxp3":0.09},{"cd25":0.96,"foxp3":0.13},{"cd25":1.08,"foxp3":0.11},{"cd25":1.20,"foxp3":0.07},
      {"cd25":0.08,"foxp3":0.01},{"cd25":0.24,"foxp3":0.05},{"cd25":0.34,"foxp3":0.01},{"cd25":0.56,"foxp3":0.01},{"cd25":0.65,"foxp3":0.01},{"cd25":0.72,"foxp3":0.05},{"cd25":0.89,"foxp3":0.01},{"cd25":1.04,"foxp3":0.01},{"cd25":1.13,"foxp3":0.01},{"cd25":1.19,"foxp3":0.05},
      {"cd25":-0.01,"foxp3":0.94},{"cd25":-0.01,"foxp3":0.79},{"cd25":-0.01,"foxp3":0.60},{"cd25":-0.01,"foxp3":0.41},{"cd25":-0.01,"foxp3":0.22},
      {"cd25":-0.01,"foxp3":-0.05},{"cd25":0.56,"foxp3":-0.06},{"cd25":0.79,"foxp3":-0.05},{"cd25":1.00,"foxp3":-0.08},
      {"cd25":0.69,"foxp3":1.94},{"cd25":0.85,"foxp3":1.25},{"cd25":0.56,"foxp3":1.12},{"cd25":1.22,"foxp3":2.41},
      {"cd25":1.29,"foxp3":2.25},{"cd25":1.87,"foxp3":2.32},{"cd25":2.06,"foxp3":2.28},{"cd25":2.31,"foxp3":2.47},{"cd25":2.38,"foxp3":2.35},{"cd25":2.41,"foxp3":2.32},{"cd25":2.50,"foxp3":2.47},{"cd25":2.64,"foxp3":2.47},{"cd25":2.73,"foxp3":2.28},{"cd25":2.86,"foxp3":2.50},
      {"cd25":1.31,"foxp3":0.29},{"cd25":1.32,"foxp3":0.39},{"cd25":1.32,"foxp3":0.53},{"cd25":1.39,"foxp3":0.48},{"cd25":1.52,"foxp3":0.63},{"cd25":1.58,"foxp3":0.47},{"cd25":1.64,"foxp3":0.34},{"cd25":1.72,"foxp3":0.60},{"cd25":1.74,"foxp3":0.19},{"cd25":1.74,"foxp3":0.23},{"cd25":1.78,"foxp3":0.04},{"cd25":1.74,"foxp3":0.75},{"cd25":1.87,"foxp3":0.47},{"cd25":2.03,"foxp3":0.43},{"cd25":2.12,"foxp3":0.22},{"cd25":2.12,"foxp3":0.18},{"cd25":2.16,"foxp3":0.50},{"cd25":2.18,"foxp3":0.37},{"cd25":2.24,"foxp3":0.34},{"cd25":2.54,"foxp3":0.69},{"cd25":2.54,"foxp3":0.30},{"cd25":2.60,"foxp3":0.09},{"cd25":2.77,"foxp3":0.30},{"cd25":1.31,"foxp3":0.01},{"cd25":1.27,"foxp3":0.29},{"cd25":1.26,"foxp3":0.19},{"cd25":1.26,"foxp3":0.43}
    ]
  },
  "vconcat": [
    {
      "hconcat": [
        {
          "width": 77, "height": 400,
          "view": {"stroke": null},
          "data": {"values": [{}]},
          "mark": {"type": "point", "opacity": 0},
          "title": {"text": "( a )", "orient": "bottom", "anchor": "start", "frame": "group", "dx": 258, "offset": 187, "align": "center", "baseline": "bottom", "font": "DejaVu Sans", "fontSize": 17, "color": "#222222"}
        },
        {
          "width": 403, "height": 400,
          "title": {"text": "Control", "offset": 0.5},
          "resolve": {"axis": {"x": "independent", "y": "independent"}},
          "layer": [
            {
              "data": {"name": "a"},
              "mark": {"type": "square", "size": 12, "color": "#e3221b", "opacity": 1},
              "encoding": {
                "x": {"field": "cd25", "type": "quantitative", "scale": {"domain": [-0.019, 4.011], "nice": false, "zero": false},
                  "axis": {"orient": "bottom", "values": [0, 1, 2, 3, 4],
                    "labelExpr": "datum.value === 0 ? '10⁰' : datum.value === 1 ? '10¹' : datum.value === 2 ? '10²' : datum.value === 3 ? '10³' : '10⁴'",
                    "tickSize": 10, "labelFontSize": 27, "labelPadding": 16, "labelOverlap": false, "labelFlush": false,
                    "title": "CD25", "titleFontSize": 28, "titleX": 26, "titleY": 108, "titleBaseline": "middle", "titleAlign": "center"}},
                "y": {"field": "foxp3", "type": "quantitative", "scale": {"domain": [0, 4], "nice": false, "zero": false},
                  "axis": {"orient": "left", "values": [0, 1, 2, 3, 4],
                    "labelExpr": "datum.value === 0 ? '10⁰' : datum.value === 1 ? '10¹' : datum.value === 2 ? '10²' : datum.value === 3 ? '10³' : '10⁴'",
                    "tickSize": 10, "labelFontSize": 27, "labelPadding": 8, "labelOverlap": false, "labelFlush": false,
                    "title": "Foxp3", "titleFontSize": 28, "titleX": -121, "titleY": 350, "titleAngle": -90, "titleBaseline": "middle", "titleAlign": "center"}}
              }
            },
            {"data": {"values": [{"cd25": 1.244}]}, "mark": {"type": "rule", "color": "black", "strokeWidth": 2},
             "encoding": {"x": {"field": "cd25", "type": "quantitative", "axis": {"orient": "bottom", "values": [0.301,0.477,0.602,0.699,0.778,0.845,0.903,0.954,1.301,1.477,1.602,1.699,1.778,1.845,1.903,1.954,2.301,2.477,2.602,2.699,2.778,2.845,2.903,2.954,3.301,3.477,3.602,3.699,3.778,3.845,3.903,3.954], "tickSize": 6, "labels": false, "title": null}}}},
            {"data": {"values": [{"foxp3": 1.089}]}, "mark": {"type": "rule", "color": "black", "strokeWidth": 2},
             "encoding": {"y": {"field": "foxp3", "type": "quantitative", "axis": {"orient": "left", "values": [0.301,0.477,0.602,0.699,0.778,0.845,0.903,0.954,1.301,1.477,1.602,1.699,1.778,1.845,1.903,1.954,2.301,2.477,2.602,2.699,2.778,2.845,2.903,2.954,3.301,3.477,3.602,3.699,3.778,3.845,3.903,3.954], "tickSize": 5, "labels": false, "title": null}}}},
            {"data": {"values": [{"cd25": -0.867, "foxp3": -0.75, "cd25_end": -0.867, "foxp3_end": 1.6}, {"cd25": -0.867, "foxp3": -0.75, "cd25_end": 1.343, "foxp3_end": -0.75}]},
             "mark": {"type": "rule", "color": "black", "strokeWidth": 2},
             "encoding": {"x": {"field": "cd25", "type": "quantitative", "axis": null}, "x2": {"field": "cd25_end"}, "y": {"field": "foxp3", "type": "quantitative", "axis": null}, "y2": {"field": "foxp3_end"}}},
            {"data": {"values": [{"cd25": 2.871, "foxp3": 3.473, "label": "9.12%"}]},
             "mark": {"type": "text", "align": "left", "baseline": "alphabetic", "font": "Liberation Serif", "fontSize": 29, "color": "black"},
             "encoding": {"x": {"field": "cd25", "type": "quantitative", "axis": null}, "y": {"field": "foxp3", "type": "quantitative", "axis": null}, "text": {"field": "label"}}}
          ]
        }
      ],
      "spacing": 0,
      "bounds": "flush"
    },
    {
      "spacing": 27,
      "vconcat": [
        {
          "width": 447, "height": 443,
          "title": {"text": "OVA", "offset": 2.5},
          "resolve": {"axis": {"x": "independent", "y": "independent"}},
          "layer": [
            {
              "data": {"name": "b"},
              "mark": {"type": "square", "size": 12, "color": "#e3221b", "opacity": 1},
              "encoding": {
                "x": {"field": "cd25", "type": "quantitative", "scale": {"domain": [-0.024, 4.017], "nice": false, "zero": false},
                  "axis": {"orient": "bottom", "values": [0, 1, 2, 3, 4],
                    "labelExpr": "datum.value === 0 ? '10⁰' : datum.value === 1 ? '10¹' : datum.value === 2 ? '10²' : datum.value === 3 ? '10³' : '10⁴'",
                    "tickSize": 11, "labelFontSize": 30, "labelPadding": 16, "labelOverlap": false, "labelFlush": false,
                    "title": "( b )", "titleFont": "DejaVu Sans", "titleFontSize": 17, "titleColor": "#222222", "titleX": 258, "titleY": 102, "titleBaseline": "bottom", "titleAlign": "center"}},
                "y": {"field": "foxp3", "type": "quantitative", "scale": {"domain": [0, 4], "nice": false, "zero": false},
                  "axis": {"orient": "left", "values": [0, 1, 2, 3, 4],
                    "labelExpr": "datum.value === 0 ? '10⁰' : datum.value === 1 ? '10¹' : datum.value === 2 ? '10²' : datum.value === 3 ? '10³' : '10⁴'",
                    "tickSize": 11, "labelFontSize": 30, "labelPadding": 8, "labelOverlap": false, "labelFlush": false, "title": null}}
              }
            },
            {"data": {"values": [{"cd25": 1.231}]}, "mark": {"type": "rule", "color": "black", "strokeWidth": 2},
             "encoding": {"x": {"field": "cd25", "type": "quantitative", "axis": {"orient": "bottom", "values": [0.301,0.477,0.602,0.699,0.778,0.845,0.903,0.954,1.301,1.477,1.602,1.699,1.778,1.845,1.903,1.954,2.301,2.477,2.602,2.699,2.778,2.845,2.903,2.954,3.301,3.477,3.602,3.699,3.778,3.845,3.903,3.954], "tickSize": 7, "labels": false, "title": null}}}},
            {"data": {"values": [{"foxp3": 1.144}]}, "mark": {"type": "rule", "color": "black", "strokeWidth": 2},
             "encoding": {"y": {"field": "foxp3", "type": "quantitative", "axis": {"orient": "left", "values": [0.301,0.477,0.602,0.699,0.778,0.845,0.903,0.954,1.301,1.477,1.602,1.699,1.778,1.845,1.903,1.954,2.301,2.477,2.602,2.699,2.778,2.845,2.903,2.954,3.301,3.477,3.602,3.699,3.778,3.845,3.903,3.954], "tickSize": 7, "labels": false, "title": null}}}},
            {"data": {"values": [{"cd25": 2.467, "foxp3": 3.48, "label": "***6.96%"}]},
             "mark": {"type": "text", "align": "left", "baseline": "alphabetic", "font": "Liberation Serif", "fontSize": 31, "color": "black"},
             "encoding": {"x": {"field": "cd25", "type": "quantitative", "axis": null}, "y": {"field": "foxp3", "type": "quantitative", "axis": null}, "text": {"field": "label"}}}
          ]
        },
        {
          "width": 447, "height": 443,
          "title": {"text": "OVA + EA", "anchor": "start", "dx": 56, "offset": 26},
          "resolve": {"axis": {"x": "independent", "y": "independent"}},
          "layer": [
            {
              "data": {"name": "c"},
              "mark": {"type": "square", "size": 12, "color": "#e3221b", "opacity": 1},
              "encoding": {
                "x": {"field": "cd25", "type": "quantitative", "scale": {"domain": [-0.024, 4.017], "nice": false, "zero": false},
                  "axis": {"orient": "bottom", "values": [0, 1, 2, 3, 4],
                    "labelExpr": "datum.value === 0 ? '10⁰' : datum.value === 1 ? '10¹' : datum.value === 2 ? '10²' : datum.value === 3 ? '10³' : '10⁴'",
                    "tickSize": 11, "labelFontSize": 30, "labelPadding": 16, "labelOverlap": false, "labelFlush": false,
                    "title": "( c )", "titleFont": "DejaVu Sans", "titleFontSize": 17, "titleColor": "#222222", "titleX": 258, "titleY": 102, "titleBaseline": "bottom", "titleAlign": "center"}},
                "y": {"field": "foxp3", "type": "quantitative", "scale": {"domain": [0, 4], "nice": false, "zero": false},
                  "axis": {"orient": "left", "values": [0, 1, 2, 3, 4],
                    "labelExpr": "datum.value === 0 ? '10⁰' : datum.value === 1 ? '10¹' : datum.value === 2 ? '10²' : datum.value === 3 ? '10³' : '10⁴'",
                    "tickSize": 11, "labelFontSize": 30, "labelPadding": 8, "labelOverlap": false, "labelFlush": false, "title": null}}
              }
            },
            {"data": {"values": [{"cd25": 1.231}]}, "mark": {"type": "rule", "color": "black", "strokeWidth": 2},
             "encoding": {"x": {"field": "cd25", "type": "quantitative", "axis": {"orient": "bottom", "values": [0.301,0.477,0.602,0.699,0.778,0.845,0.903,0.954,1.301,1.477,1.602,1.699,1.778,1.845,1.903,1.954,2.301,2.477,2.602,2.699,2.778,2.845,2.903,2.954,3.301,3.477,3.602,3.699,3.778,3.845,3.903,3.954], "tickSize": 7, "labels": false, "title": null}}}},
            {"data": {"values": [{"foxp3": 1.086}]}, "mark": {"type": "rule", "color": "black", "strokeWidth": 2},
             "encoding": {"y": {"field": "foxp3", "type": "quantitative", "axis": {"orient": "left", "values": [0.301,0.477,0.602,0.699,0.778,0.845,0.903,0.954,1.301,1.477,1.602,1.699,1.778,1.845,1.903,1.954,2.301,2.477,2.602,2.699,2.778,2.845,2.903,2.954,3.301,3.477,3.602,3.699,3.778,3.845,3.903,3.954], "tickSize": 7, "labels": false, "title": null}}}},
            {"data": {"values": [{"cd25": 2.586, "foxp3": 3.457, "label": "**8.19%"}]},
             "mark": {"type": "text", "align": "left", "baseline": "alphabetic", "font": "Liberation Serif", "fontSize": 31, "color": "black"},
             "encoding": {"x": {"field": "cd25", "type": "quantitative", "axis": null}, "y": {"field": "foxp3", "type": "quantitative", "axis": null}, "text": {"field": "label"}}}
          ]
        },
        {
          "width": 447, "height": 443,
          "title": {"text": "OVA_T", "offset": 6.4},
          "resolve": {"axis": {"x": "independent", "y": "independent"}},
          "layer": [
            {
              "data": {"name": "d"},
              "mark": {"type": "square", "size": 12, "color": "#e3221b", "opacity": 1},
              "encoding": {
                "x": {"field": "cd25", "type": "quantitative", "scale": {"domain": [-0.024, 4.017], "nice": false, "zero": false},
                  "axis": {"orient": "bottom", "values": [0, 1, 2, 3, 4],
                    "labelExpr": "datum.value === 0 ? '10⁰' : datum.value === 1 ? '10¹' : datum.value === 2 ? '10²' : datum.value === 3 ? '10³' : '10⁴'",
                    "tickSize": 11, "labelFontSize": 30, "labelPadding": 16, "labelOverlap": false, "labelFlush": false,
                    "title": "( d )", "titleFont": "DejaVu Sans", "titleFontSize": 17, "titleColor": "#222222", "titleX": 258, "titleY": 102, "titleBaseline": "bottom", "titleAlign": "center"}},
                "y": {"field": "foxp3", "type": "quantitative", "scale": {"domain": [0, 4], "nice": false, "zero": false},
                  "axis": {"orient": "left", "values": [0, 1, 2, 3, 4],
                    "labelExpr": "datum.value === 0 ? '10⁰' : datum.value === 1 ? '10¹' : datum.value === 2 ? '10²' : datum.value === 3 ? '10³' : '10⁴'",
                    "tickSize": 11, "labelFontSize": 30, "labelPadding": 8, "labelOverlap": false, "labelFlush": false, "title": null}}
              }
            },
            {"data": {"values": [{"cd25": 1.231}]}, "mark": {"type": "rule", "color": "black", "strokeWidth": 2},
             "encoding": {"x": {"field": "cd25", "type": "quantitative", "axis": {"orient": "bottom", "values": [0.301,0.477,0.602,0.699,0.778,0.845,0.903,0.954,1.301,1.477,1.602,1.699,1.778,1.845,1.903,1.954,2.301,2.477,2.602,2.699,2.778,2.845,2.903,2.954,3.301,3.477,3.602,3.699,3.778,3.845,3.903,3.954], "tickSize": 7, "labels": false, "title": null}}}},
            {"data": {"values": [{"foxp3": 1.024}]}, "mark": {"type": "rule", "color": "black", "strokeWidth": 2},
             "encoding": {"y": {"field": "foxp3", "type": "quantitative", "axis": {"orient": "left", "values": [0.301,0.477,0.602,0.699,0.778,0.845,0.903,0.954,1.301,1.477,1.602,1.699,1.778,1.845,1.903,1.954,2.301,2.477,2.602,2.699,2.778,2.845,2.903,2.954,3.301,3.477,3.602,3.699,3.778,3.845,3.903,3.954], "tickSize": 7, "labels": false, "title": null}}}},
            {"data": {"values": [{"cd25": 2.882, "foxp3": 3.366, "label": "5.43%"}]},
             "mark": {"type": "text", "align": "left", "baseline": "alphabetic", "font": "Liberation Serif", "fontSize": 31, "color": "black"},
             "encoding": {"x": {"field": "cd25", "type": "quantitative", "axis": null}, "y": {"field": "foxp3", "type": "quantitative", "axis": null}, "text": {"field": "label"}}}
          ]
        },
        {
          "width": 447, "height": 443,
          "title": {"text": "OVA_T + EA", "offset": 5.3},
          "resolve": {"axis": {"x": "independent", "y": "independent"}},
          "layer": [
            {
              "data": {"name": "e"},
              "mark": {"type": "square", "size": 12, "color": "#e3221b", "opacity": 1},
              "encoding": {
                "x": {"field": "cd25", "type": "quantitative", "scale": {"domain": [-0.024, 4.017], "nice": false, "zero": false},
                  "axis": {"orient": "bottom", "values": [0, 1, 2, 3, 4],
                    "labelExpr": "datum.value === 0 ? '10⁰' : datum.value === 1 ? '10¹' : datum.value === 2 ? '10²' : datum.value === 3 ? '10³' : '10⁴'",
                    "tickSize": 11, "labelFontSize": 30, "labelPadding": 16, "labelOverlap": false, "labelFlush": false,
                    "title": "( e )", "titleFont": "DejaVu Sans", "titleFontSize": 17, "titleColor": "#222222", "titleX": 258, "titleY": 102, "titleBaseline": "bottom", "titleAlign": "center"}},
                "y": {"field": "foxp3", "type": "quantitative", "scale": {"domain": [0, 4], "nice": false, "zero": false},
                  "axis": {"orient": "left", "values": [0, 1, 2, 3, 4],
                    "labelExpr": "datum.value === 0 ? '10⁰' : datum.value === 1 ? '10¹' : datum.value === 2 ? '10²' : datum.value === 3 ? '10³' : '10⁴'",
                    "tickSize": 11, "labelFontSize": 30, "labelPadding": 8, "labelOverlap": false, "labelFlush": false, "title": null}}
              }
            },
            {"data": {"values": [{"cd25": 1.231}]}, "mark": {"type": "rule", "color": "black", "strokeWidth": 2},
             "encoding": {"x": {"field": "cd25", "type": "quantitative", "axis": {"orient": "bottom", "values": [0.301,0.477,0.602,0.699,0.778,0.845,0.903,0.954,1.301,1.477,1.602,1.699,1.778,1.845,1.903,1.954,2.301,2.477,2.602,2.699,2.778,2.845,2.903,2.954,3.301,3.477,3.602,3.699,3.778,3.845,3.903,3.954], "tickSize": 7, "labels": false, "title": null}}}},
            {"data": {"values": [{"foxp3": 1.089}]}, "mark": {"type": "rule", "color": "black", "strokeWidth": 2},
             "encoding": {"y": {"field": "foxp3", "type": "quantitative", "axis": {"orient": "left", "values": [0.301,0.477,0.602,0.699,0.778,0.845,0.903,0.954,1.301,1.477,1.602,1.699,1.778,1.845,1.903,1.954,2.301,2.477,2.602,2.699,2.778,2.845,2.903,2.954,3.301,3.477,3.602,3.699,3.778,3.845,3.903,3.954], "tickSize": 7, "labels": false, "title": null}}}},
            {"data": {"values": [{"cd25": 3.228, "foxp3": 3.362, "label": "5%"}]},
             "mark": {"type": "text", "align": "left", "baseline": "alphabetic", "font": "Liberation Serif", "fontSize": 31, "color": "black"},
             "encoding": {"x": {"field": "cd25", "type": "quantitative", "axis": null}, "y": {"field": "foxp3", "type": "quantitative", "axis": null}, "text": {"field": "label"}}}
          ]
        }
      ]
    }
  ]
}
